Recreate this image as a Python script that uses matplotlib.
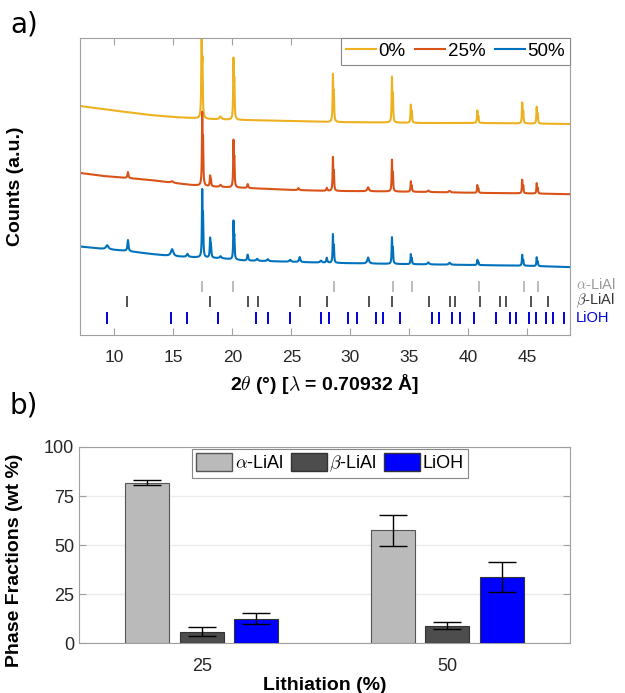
import numpy as np
import matplotlib
matplotlib.use("Agg")
import matplotlib.pyplot as plt
from matplotlib.patches import Patch

plt.rcParams["font.family"] = ["Liberation Sans", "DejaVu Sans"]
plt.rcParams["mathtext.fontset"] = "cm"

# ---- a) difractogramas: fondo (x, y) y picos (posicion, altura, semiancho) ----
bg_x = [7.1, 9.0, 11.0, 13.0, 15.0, 16.5, 18.0, 19.0, 21.0, 25.0, 28.0, 33.0, 36.0, 41.0, 45.0, 48.6]
bg_0 = [229, 226, 223, 220, 218, 217, 216, 215.5, 215, 214, 213, 212.5, 212, 212, 211.5, 211]
bg_25 = [162, 159, 157, 155, 152, 150, 148.5, 148, 147, 145, 144, 143.5, 143, 142, 141.5, 140.7]
bg_50 = [88.3, 86, 84, 81, 78.5, 77.7, 77, 76.5, 74.3, 73, 72, 71, 70.5, 69.7, 69, 67.7]

pk_pos_0 = [17.40, 17.47, 19.0, 20.10, 20.17, 28.52, 28.60, 33.52, 33.60, 35.12, 35.20,
            40.75, 40.84, 44.55, 44.64, 45.78, 45.87]
pk_h_0 = [92, 48, 3, 57, 34, 45, 27, 43, 25, 17, 10, 12, 6, 20, 11, 16, 9]
pk_w_0 = [0.03, 0.03, 0.1, 0.03, 0.03, 0.03, 0.03, 0.03, 0.03, 0.03, 0.03,
          0.03, 0.03, 0.03, 0.03, 0.03, 0.03]

pk_pos_25 = [11.16, 14.9, 17.45, 17.52, 18.12, 18.19, 19.0, 20.10, 20.17, 21.3, 25.6, 28.0,
             28.52, 28.60, 31.5, 33.52, 33.60, 35.12, 35.20, 36.6, 38.4, 40.75, 40.84,
             44.55, 44.64, 45.78, 45.87]
pk_h_25 = [6, 1.5, 68, 40, 10, 5, 2, 44, 25, 4, 2, 3, 32, 17, 4, 30, 16, 10, 5, 1.5, 1.5,
           7.5, 4, 13, 7, 10, 5]
pk_w_25 = [0.05, 0.12, 0.03, 0.03, 0.035, 0.035, 0.08, 0.03, 0.03, 0.05, 0.06, 0.05,
           0.03, 0.03, 0.08, 0.03, 0.03, 0.03, 0.03, 0.08, 0.08, 0.03, 0.03,
           0.03, 0.03, 0.03, 0.03]

pk_pos_50 = [9.4, 11.16, 14.9, 16.2, 17.45, 17.52, 18.12, 18.19, 19.0, 20.10, 20.17, 21.3,
             22.1, 23.0, 24.9, 25.7, 27.5, 28.0, 28.52, 28.60, 31.5, 33.52, 33.60, 35.12,
             35.20, 36.6, 38.4, 40.75, 40.84, 44.55, 44.64, 45.78, 45.87]
pk_h_50 = [4, 11, 7, 3, 63, 36, 18, 11, 2, 36, 20, 6, 2, 2, 2, 5, 2, 5, 27, 15, 6, 25, 14,
           9.5, 5, 2, 2, 5, 3, 10.5, 5, 8.5, 4]
pk_w_50 = [0.12, 0.05, 0.12, 0.08, 0.03, 0.03, 0.035, 0.035, 0.08, 0.03, 0.03, 0.05,
           0.08, 0.08, 0.08, 0.06, 0.08, 0.05, 0.03, 0.03, 0.08, 0.03, 0.03, 0.03,
           0.03, 0.08, 0.08, 0.03, 0.03, 0.03, 0.03, 0.03, 0.03]

# posiciones de las reflexiones de cada fase
refl_alpha = [17.4, 20.1, 28.6, 33.6, 35.2, 40.9, 44.7, 45.9]
refl_beta = [11.1, 18.1, 21.3, 22.2, 25.7, 28.0, 31.6, 33.5, 36.7, 38.4, 38.9, 41.0,
             42.7, 43.2, 45.3, 46.7]
refl_lioh = [9.4, 14.8, 16.2, 18.8, 22.0, 23.0, 24.9, 27.5, 28.2, 29.8, 30.6, 32.2, 32.8,
             34.2, 36.9, 37.5, 38.6, 39.3, 40.5, 42.3, 43.5, 44.0, 45.1, 45.7, 46.6, 47.2,
             48.1]

# ---- b) fracciones de fase ----
litiacion = ["25", "50"]
alpha_wt = [81.8, 57.5]
alpha_err = [1.3, 8.0]
beta_wt = [5.8, 8.8]
beta_err = [2.3, 1.8]
lioh_wt = [12.5, 33.7]
lioh_err = [2.8, 7.8]

col_0 = "#EDB120"
col_25 = "#D95319"
col_50 = "#0072BD"
gris_eje = "#A0A0A0"
texto = "#262626"


def patron(x, bg, pos, h, w):
    # fondo lineal a tramos + picos lorentzianos
    y = np.interp(x, bg_x, bg)
    for p, a, g in zip(pos, h, w):
        y = y + a / (1 + ((x - p) / g) ** 2)
    return y


fig = plt.figure(figsize=(6.25, 6.93), dpi=100)

ax1 = fig.add_axes([0.128, 0.517, 0.784, 0.428])
x = np.arange(7.1, 48.6, 0.004)
ax1.plot(x, patron(x, bg_0, pk_pos_0, pk_h_0, pk_w_0), color=col_0, lw=1.5, label="0%")
ax1.plot(x, patron(x, bg_25, pk_pos_25, pk_h_25, pk_w_25), color=col_25, lw=1.5, label="25%")
ax1.plot(x, patron(x, bg_50, pk_pos_50, pk_h_50, pk_w_50), color=col_50, lw=1.5, label="50%")

ax1.vlines(refl_alpha, 43, 54, color="#AAAAAA", lw=1.1)
ax1.vlines(refl_beta, 28, 39, color="#222222", lw=1.1)
ax1.vlines(refl_lioh, 11, 23, color="#0000DD", lw=1.4)

for etiqueta, yy, cc in [(r"$\alpha$-LiAl", 50, "#999999"),
                         (r"$\beta$-LiAl", 34, "#333333"),
                         ("LiOH", 16.5, "#0000DD")]:
    ax1.text(1.012, yy, etiqueta, transform=ax1.get_yaxis_transform(),
             color=cc, fontsize=10.5, va="center", ha="left", clip_on=False)

ax1.set_xlim(7.1, 48.6)
ax1.set_ylim(0, 297)
ax1.set_xticks([10, 15, 20, 25, 30, 35, 40, 45])
ax1.set_yticks([])
ax1.tick_params(axis="x", direction="in", top=True, length=5, color=gris_eje,
                labelsize=12.5, labelcolor=texto, pad=11)
for s in ax1.spines.values():
    s.set_color(gris_eje)
ax1.set_xlabel(r"2$\theta$ (°) [$\lambda$ = 0.70932 Å]", fontsize=14, fontweight="bold",
               labelpad=5)
ax1.set_ylabel("Counts (a.u.)", fontsize=14, fontweight="bold")
ax1.yaxis.set_label_coords(-0.115, 0.5)
leg1 = ax1.legend(loc="upper right", ncol=3, fontsize=13.5, handlelength=1.6,
                  handletextpad=0.15, columnspacing=0.5, borderaxespad=0,
                  fancybox=False, framealpha=1, borderpad=0.25)
leg1.get_frame().set_edgecolor("#888888")
leg1.get_frame().set_linewidth(0.8)
fig.text(0.016, 0.985, "a)", fontsize=20, family="DejaVu Sans", va="top", ha="left")

# ---- panel b ----
ax2 = fig.add_axes([0.1264, 0.072, 0.7856, 0.283])
idx = np.arange(1, len(litiacion) + 1)
dx = 0.222
ancho = 0.178
err_kw = dict(ecolor="black", elinewidth=1, capsize=10, capthick=1)
ax2.bar(idx - dx, alpha_wt, ancho, yerr=alpha_err, color="#BABABA", edgecolor="#555555",
        linewidth=0.8, error_kw=err_kw, zorder=3)
ax2.bar(idx, beta_wt, ancho, yerr=beta_err, color="#4D4D4D", edgecolor="#333333",
        linewidth=0.8, error_kw=err_kw, zorder=3)
ax2.bar(idx + dx, lioh_wt, ancho, yerr=lioh_err, color="#0000FF", edgecolor="#333333",
        linewidth=0.8, error_kw=err_kw, zorder=3)

ax2.set_xlim(0.5, 2.5)
ax2.set_ylim(0, 100)
ax2.set_xticks(idx)
ax2.set_xticklabels(litiacion)
ax2.set_yticks([0, 25, 50, 75, 100])
ax2.yaxis.grid(True, color="#EBEBEB", lw=1, zorder=0)
ax2.tick_params(axis="y", direction="in", right=True, length=5, color=gris_eje,
                labelsize=13, labelcolor=texto)
ax2.tick_params(axis="x", length=0, labelsize=13, labelcolor=texto, pad=11)
for s in ax2.spines.values():
    s.set_color(gris_eje)
ax2.set_xlabel("Lithiation (%)", fontsize=14, fontweight="bold", labelpad=1)
ax2.set_ylabel("Phase Fractions (wt %)", fontsize=14, fontweight="bold")
ax2.yaxis.set_label_coords(-0.115, 0.42)

manejadores = [Patch(facecolor="#BABABA", edgecolor="#555555", label=r"$\alpha$-LiAl"),
               Patch(facecolor="#4D4D4D", edgecolor="#333333", label=r"$\beta$-LiAl"),
               Patch(facecolor="#0000FF", edgecolor="#333333", label="LiOH")]
leg2 = ax2.legend(handles=manejadores, loc="upper center", bbox_to_anchor=(0.511, 1.0),
                  ncol=3, fontsize=13, handlelength=2.0, handleheight=1.1,
                  handletextpad=0.15, columnspacing=0.4, borderaxespad=0.1,
                  fancybox=False, framealpha=1, borderpad=0.25)
leg2.get_frame().set_edgecolor("#888888")
leg2.get_frame().set_linewidth(0.8)
fig.text(0.016, 0.435, "b)", fontsize=20, family="DejaVu Sans", va="top", ha="left")

fig.savefig("out.png", dpi=100)
